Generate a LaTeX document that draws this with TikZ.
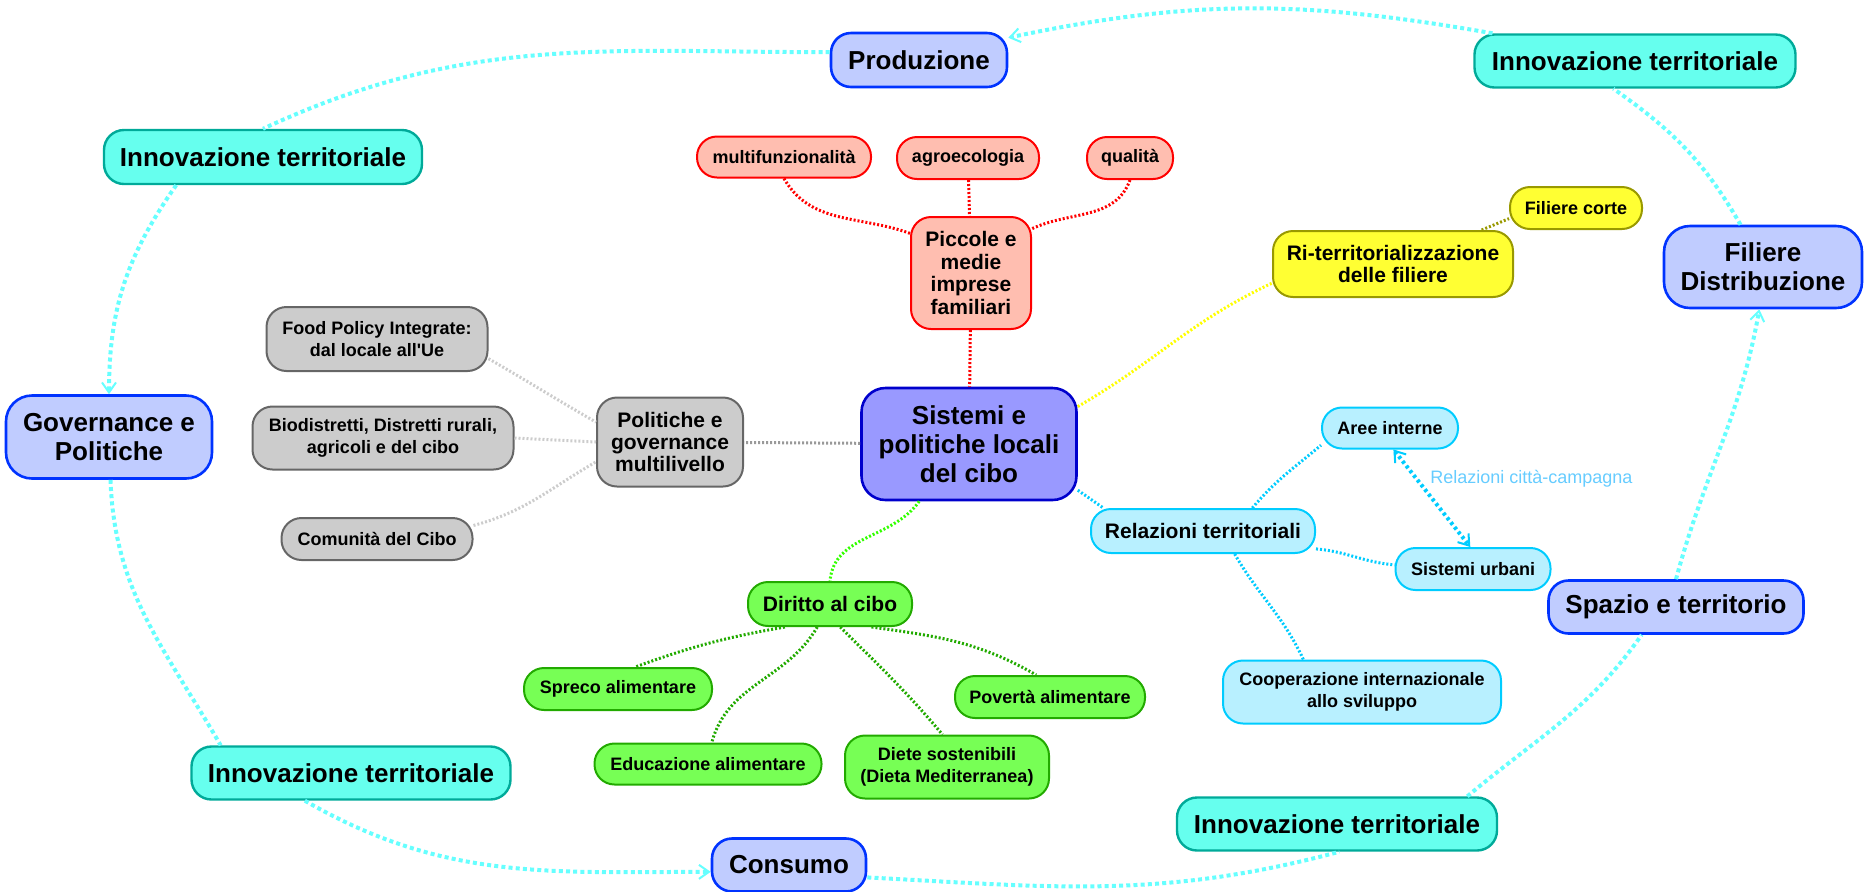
\documentclass[tikz,border=0pt]{standalone}
\usepackage{fontspec}
\setmainfont{Liberation Sans}
\usetikzlibrary{arrows.meta}

\definecolor{hubfill}{RGB}{192,204,255}
\definecolor{hubdraw}{RGB}{0,51,255}
\definecolor{corefill}{RGB}{153,153,255}
\definecolor{coredraw}{RGB}{0,0,204}
\definecolor{innovfill}{RGB}{102,255,238}
\definecolor{innovdraw}{RGB}{0,170,153}
\definecolor{redfill}{RGB}{255,190,176}
\definecolor{yelfill}{RGB}{255,255,51}
\definecolor{yeldraw}{RGB}{153,153,0}
\definecolor{yellink}{RGB}{255,255,0}
\definecolor{grayfill}{RGB}{204,204,204}
\definecolor{graydraw}{RGB}{102,102,102}
\definecolor{graylink}{RGB}{204,204,204}
\definecolor{graydark}{RGB}{153,153,153}
\definecolor{grnfill}{RGB}{119,255,85}
\definecolor{grndraw}{RGB}{34,170,0}
\definecolor{grnlight}{RGB}{51,255,0}
\definecolor{cyfill}{RGB}{184,240,255}
\definecolor{cydraw}{RGB}{0,204,255}
\definecolor{outerc}{RGB}{102,255,255}
\definecolor{lblc}{RGB}{102,204,255}

\tikzset{
  pill/.style={rounded corners=10pt, line width=1pt, align=center, inner sep=0pt, text=black},
  bigtxt/.style={font=\fontsize{13}{14.5}\selectfont\bfseries},
  midtxt/.style={font=\fontsize{10.5}{11.2}\selectfont\bfseries},
  smalltxt/.style={font=\fontsize{9}{10.8}\selectfont\bfseries},
  hubbox/.style={pill, bigtxt, draw=hubdraw, fill=hubfill, line width=1.3pt},
  innovbox/.style={pill, bigtxt, draw=innovdraw, fill=innovfill, line width=1.2pt},
  corebox/.style={pill, bigtxt, draw=coredraw, fill=corefill, line width=1.3pt, rounded corners=12pt},
  redbox/.style={pill, draw=red, fill=redfill},
  yellowbox/.style={pill, draw=yeldraw, fill=yelfill},
  graybox/.style={pill, draw=graydraw, fill=grayfill},
  greenbox/.style={pill, draw=grndraw, fill=grnfill},
  cyanbox/.style={pill, draw=cydraw, fill=cyfill},
  conn/.style={draw=#1, line width=1.5pt, dash pattern=on 1pt off 1pt},
  outerl/.style={draw=outerc, line width=2pt, dash pattern=on 2pt off 1.6pt},
  tip/.style={-{Straight Barb[length=5pt,width=7pt,line width=1pt]}},
  relbl/.style={font=\fontsize{9}{10.8}\selectfont, text=lblc, inner sep=0pt}
}

\begin{document}
\begin{tikzpicture}[x=0.5pt,y=0.5pt]
\useasboundingbox (0,0) rectangle (1864,-891);

\node[hubbox, minimum width=88pt, minimum height=27pt] (prod) at (919,-60) {Produzione};
\node[innovbox, minimum width=159pt, minimum height=27pt] (itl) at (263,-157) {Innovazione territoriale};
\node[innovbox, minimum width=160.5pt, minimum height=26.5pt] (itr) at (1635,-61) {Innovazione territoriale};
\node[innovbox, minimum width=159.5pt, minimum height=26.5pt] (ibl) at (351,-773) {Innovazione territoriale};
\node[innovbox, minimum width=160pt, minimum height=26.5pt] (ibr) at (1337,-824) {Innovazione territoriale};
\node[hubbox, rounded corners=13pt, minimum width=103pt, minimum height=41.5pt] (gov) at (109,-437) {Governance e\\Politiche};
\node[hubbox, rounded corners=13pt, minimum width=99pt, minimum height=41pt] (fil) at (1763,-267) {Filiere\\Distribuzione};
\node[hubbox, minimum width=127.5pt, minimum height=26.5pt] (spazio) at (1676,-607) {Spazio e territorio};
\node[hubbox, minimum width=77pt, minimum height=26.5pt] (cons) at (789,-865) {Consumo};

\node[corebox, minimum width=107.5pt, minimum height=56pt] (core) at (969,-444) {Sistemi e\\politiche locali\\del cibo};

\node[redbox, midtxt, minimum width=60pt, minimum height=56pt] (picc) at (971,-273) {Piccole e\\medie\\imprese\\familiari};
\node[redbox, smalltxt, minimum width=87pt, minimum height=20.5pt] (multi) at (784,-157) {multifunzionalità};
\node[redbox, smalltxt, minimum width=71pt, minimum height=21pt] (agro) at (968,-158) {agroecologia};
\node[redbox, smalltxt, minimum width=43pt, minimum height=21pt] (qual) at (1130,-158) {qualità};

\node[yellowbox, midtxt, minimum width=120pt, minimum height=33pt] (riterr) at (1393,-264) {Ri-territorializzazione\\delle filiere};
\node[yellowbox, smalltxt, minimum width=66pt, minimum height=21pt] (corte) at (1576,-208) {Filiere corte};

\node[graybox, midtxt, minimum width=73pt, minimum height=44.5pt] (pol) at (670,-442) {Politiche e\\governance\\multilivello};
\node[graybox, smalltxt, minimum width=110.5pt, minimum height=32pt] (food) at (377,-339) {Food Policy Integrate:\\dal locale all\textquotesingle Ue};
\node[graybox, smalltxt, minimum width=130.5pt, minimum height=31.5pt] (bio) at (383,-438) {Biodistretti, Distretti rurali,\\agricoli e del cibo};
\node[graybox, smalltxt, minimum width=95.5pt, minimum height=21pt] (comu) at (377,-539) {Comunità del Cibo};

\node[greenbox, midtxt, minimum width=82pt, minimum height=22pt] (dir) at (830,-604) {Diritto al cibo};
\node[greenbox, smalltxt, minimum width=94pt, minimum height=21pt] (spreco) at (618,-689) {Spreco alimentare};
\node[greenbox, smalltxt, minimum width=95pt, minimum height=21pt] (pov) at (1050,-697) {Povertà alimentare};
\node[greenbox, smalltxt, minimum width=113.5pt, minimum height=20.5pt] (edu) at (708,-764) {Educazione alimentare};
\node[greenbox, smalltxt, minimum width=102pt, minimum height=31.5pt] (diete) at (947,-767) {Diete sostenibili\\(Dieta Mediterranea)};

\node[cyanbox, midtxt, minimum width=112pt, minimum height=22pt] (relter) at (1203,-531) {Relazioni territoriali};
\node[cyanbox, smalltxt, minimum width=68pt, minimum height=20.5pt] (aree) at (1390,-428) {Aree interne};
\node[cyanbox, smalltxt, minimum width=77.5pt, minimum height=21pt] (urb) at (1473,-569) {Sistemi urbani};
\node[cyanbox, smalltxt, minimum width=139pt, minimum height=31.5pt] (coop) at (1362,-692) {Cooperazione internazionale\\allo sviluppo};
\node[relbl, anchor=west] (rcc) at (1430,-479) {Relazioni città-campagna};

\draw[conn=red] (agro) -- (picc);
\draw[conn=red] (multi.south) to[out=-60,in=160] (picc.147);
\draw[conn=red] (qual.south) to[out=-110,in=25] (picc.36);
\draw[conn=red] (picc) -- (core);

\draw[conn=graydark] (core) -- (pol);
\draw[conn=graylink] (food.-10) to[out=-30,in=150] (pol.165);
\draw[conn=graylink] (bio.east) -- (pol.west);
\draw[conn=graylink] (comu.8) to[out=15,in=-150] (pol.-165);

\draw[conn=yellink] (core.19) to[out=30,in=-155] (riterr.-171);
\draw[conn=yeldraw] (riterr.21) -- (corte.-171);

\draw[conn=grnlight] (core.-131) to[out=-125,in=85] (dir.north);
\draw[conn=grndraw] (dir.-153) to[out=-170,in=20] (spreco.52);
\draw[conn=grndraw] (dir.-119) to[out=-120,in=75] (edu.80);
\draw[conn=grndraw] (dir.-66) to[out=-45,in=130] (diete.98);
\draw[conn=grndraw] (dir.-29) to[out=-8,in=150] (pov.122);

\draw[conn=cydraw] (core.-23) -- (relter.167);
\draw[conn=cydraw] (relter.25) to[out=50,in=-140] (aree.-166);
\draw[conn=cydraw] (relter.-9) to[out=-5,in=175] (urb.177);
\draw[conn=cydraw] (relter.-36) to[out=-60,in=115] (coop.151);
\draw[draw=cydraw, line width=2pt, dash pattern=on 1.5pt off 1.5pt, {Straight Barb[length=5pt,width=7pt,line width=1pt]}-{Straight Barb[length=5pt,width=7pt,line width=1pt]}] (aree.-81) -- (urb.97);

\draw[outerl] (prod.175) to[out=180,in=25] (itl.north);
\draw[outerl, tip] (itl.-162) to[out=-125,in=90] (gov.north);
\draw[outerl] (gov.-88) to[out=-88,in=120] (ibl.168);
\draw[outerl, tip] (ibl.-149) to[out=-30,in=180] (cons.185);
\draw[outerl] (cons.-9) to[out=-3,in=-165] (ibr.-85);
\draw[outerl] (ibr.12) to[out=40,in=-125] (spazio.-141);
\draw[outerl, tip] (spazio.north) to[out=75,in=-100] (fil.-95);
\draw[outerl] (fil.118) to[out=120,in=-35] (itr.-128);
\draw[outerl, tip] (itr.169) to[out=170,in=12] (prod.14);
\end{tikzpicture}
\end{document}
